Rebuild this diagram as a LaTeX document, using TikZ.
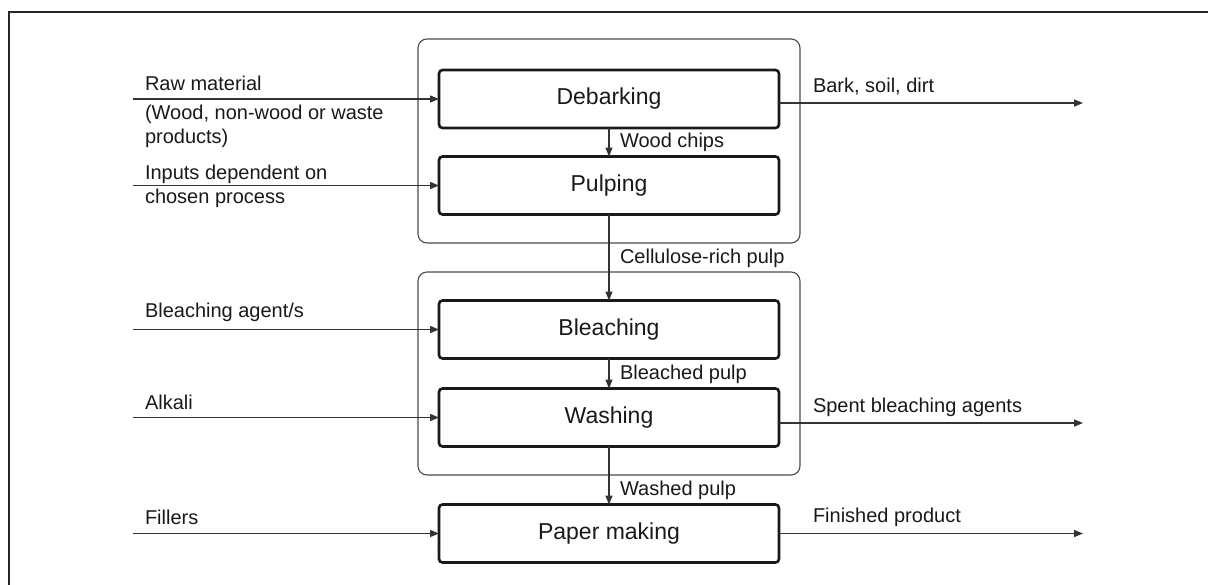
\documentclass[tikz,border=0pt]{standalone}
\usepackage{fontspec}
\setmainfont{Liberation Sans}
\usetikzlibrary{arrows.meta}
\begin{document}
\begin{tikzpicture}[x=1pt,y=-1pt,
  every node/.style={inner sep=0pt, outer sep=0pt, text=black!90},
  lbl/.style={font=\fontsize{20}{24}\selectfont, anchor=west},
  mlbl/.style={font=\fontsize{20}{24}\selectfont, anchor=north west, align=left},
  proc/.style={draw=black!90, line width=2.6pt, rounded corners=3.5pt,
    minimum width=340pt, minimum height=58pt, font=\fontsize{23}{27}\selectfont},
  grp/.style={draw=black!70, line width=1.1pt, rounded corners=9pt,
    minimum width=382pt},
  flow/.style={draw=black!80, line width=1.4pt, -{Triangle[length=9pt,width=7pt]}},
  frame/.style={draw=black!85, line width=2.4pt}
]
\useasboundingbox (0,0) rectangle (1208,584);
\draw[frame] (9,586) -- (9,12) -- (1210,12);

% groups
\node[grp, minimum height=204pt] (g1) at (609,141) {};
\node[grp, minimum height=203pt] (g2) at (609,373.5) {};

% process boxes
\node[proc] (deb) at (609,99) {Debarking};
\node[proc] (pulp) at (609,185.5) {Pulping};
\node[proc] (bleach) at (609,329.5) {Bleaching};
\node[proc] (wash) at (609,417.5) {Washing};
\node[proc] (paper) at (609,533.5) {Paper making};

% input start points
\coordinate (inRaw) at (133,99);
\coordinate (inInp) at (133,185.5);
\coordinate (inBl) at (133,329.5);
\coordinate (inAl) at (133,417.5);
\coordinate (inFi) at (133,533.5);
% output end points
\coordinate (outBark) at (1083,103);
\coordinate (outSpent) at (1083,423);
\coordinate (outFin) at (1083,533.5);

% inputs
\draw[flow] (inRaw) -- (deb.west);
\draw[flow] (inInp) -- (pulp.west);
\draw[flow] (inBl) -- (bleach.west);
\draw[flow] (inAl) -- (wash.west);
\draw[flow] (inFi) -- (paper.west);

% outputs
\draw[flow] (deb.east |- outBark) -- (outBark);
\draw[flow] (wash.east |- outSpent) -- (outSpent);
\draw[flow] (paper.east) -- (outFin);

% vertical flows
\draw[flow] (deb.south) -- (pulp.north);
\draw[flow] (pulp.south) -- (bleach.north);
\draw[flow] (bleach.south) -- (wash.north);
\draw[flow] (wash.south) -- (paper.north);

% left labels
\node[lbl] (tRaw) at (145,83) {Raw material};
\node[mlbl] (tWood) at (145,105.5) {(Wood, non-wood or waste\\products)};
\node[mlbl] (tInp) at (145,165.5) {Inputs dependent on\\chosen process};
\node[lbl] (tBl) at (145,312) {Bleaching agent/s};
\node[lbl] (tAl) at (145,402) {Alkali};
\node[lbl] (tFi) at (145,517) {Fillers};

% right labels
\node[lbl] (tBark) at (813,87) {Bark, soil, dirt};
\node[lbl] (tSpent) at (813,407) {Spent bleaching agents};
\node[lbl] (tFin) at (813,517) {Finished product};

% flow labels
\node[lbl] (tWc) at (620,142) {Wood chips};
\node[lbl] (tCr) at (620,258) {Cellulose-rich pulp};
\node[lbl] (tBp) at (620,374) {Bleached pulp};
\node[lbl] (tWp) at (620,490) {Washed pulp};
\end{tikzpicture}
\end{document}
